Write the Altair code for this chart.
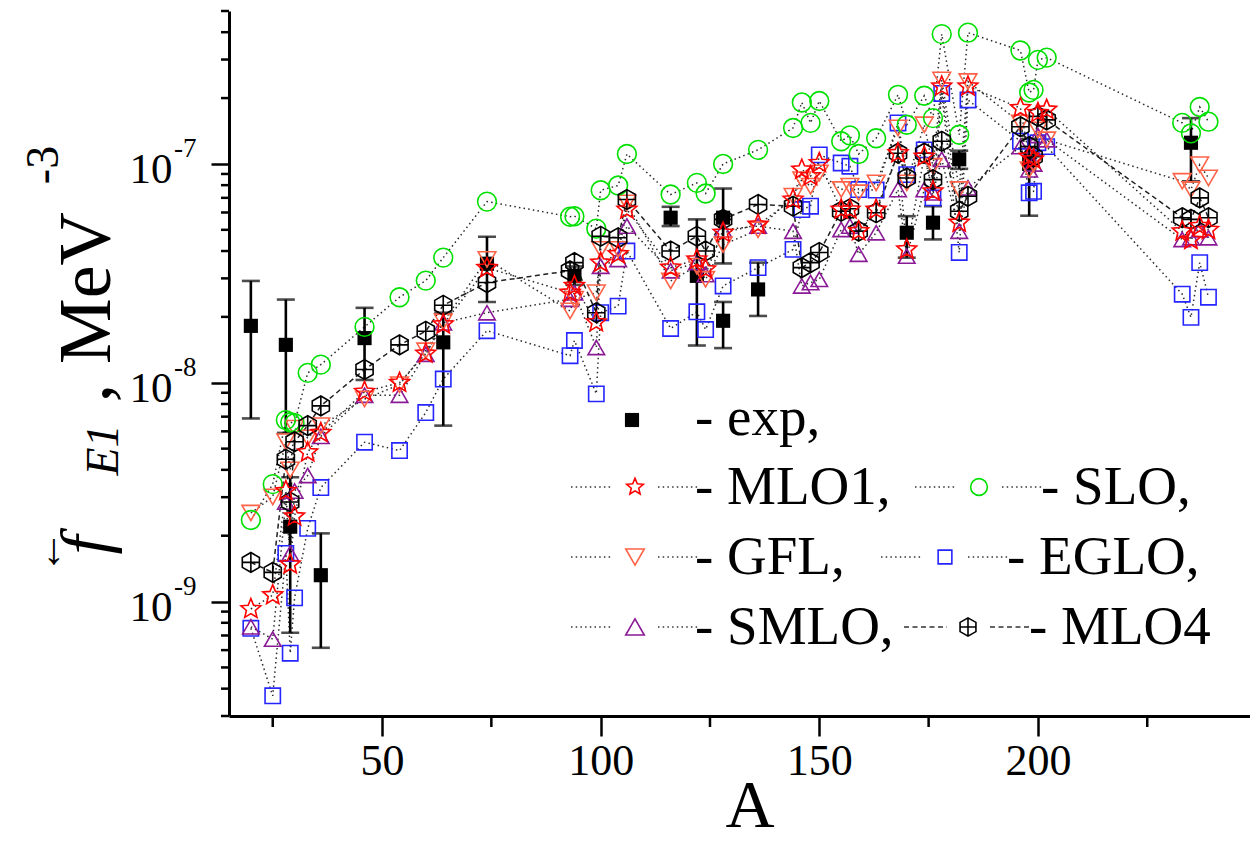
import altair as alt
import pandas as pd

# ---------------- data ----------------
A = [20, 25, 28, 29, 30, 33, 36, 46, 54, 60, 64, 74, 93, 94, 99, 100, 104, 106,
     116, 122, 124, 128, 136, 144, 146, 148, 150, 155, 157, 159, 163, 168, 170,
     174, 176, 178, 182, 184, 196, 198, 199, 200, 202, 233, 235, 237, 239]

SLO = [2.36e-9, 3.44e-9, 6.75e-9, 6.6e-9, 6.54e-9, 1.11e-8, 1.21e-8,
       1.80e-8, 2.46e-8, 2.93e-8, 3.73e-8,
       6.73e-8,
       5.74e-8, 5.77e-8, 5.06e-8, 7.58e-8, 7.97e-8, 1.11e-7,
       7.25e-8, 8.19e-8, 7.33e-8, 1.0e-7, 1.16e-7,
       1.46e-7, 1.91e-7, 1.54e-7, 1.94e-7,
       1.27e-7, 1.35e-7, 1.11e-7, 1.31e-7,
       2.07e-7, 1.51e-7, 2.05e-7, 1.62e-7, 3.92e-7,
       1.36e-7, 3.98e-7,
       3.3e-7, 2.12e-7, 2.18e-7, 2.99e-7, 3.06e-7,
       1.54e-7, 1.38e-7, 1.82e-7, 1.56e-7]

GFL = [2.54e-9, 3.01e-9, 5.38e-9, 4.0e-9, 6.2e-9, 5.6e-9, 6.37e-9,
       8.43e-9, 9.8e-9, 1.4e-8, 1.9e-8,
       3.66e-8,
       2.13e-8, 2.41e-8, 2.58e-8, 4.07e-8, 4.07e-8, 6.64e-8,
       2.92e-8, 3.41e-8, 2.97e-8, 4.28e-8, 5.0e-8,
       7.12e-8, 8.48e-8, 7.91e-8, 9.1e-8,
       7.64e-8, 7.91e-8, 7.38e-8, 8.19e-8,
       1.46e-7, 8.19e-8, 1.51e-7, 9.76e-8, 2.42e-7,
       7.64e-8, 2.38e-7,
       1.54e-7, 9.42e-8, 1.0e-7, 1.43e-7, 1.29e-7,
       8.33e-8, 7.64e-8, 9.92e-8, 8.63e-8]

MLO1 = [9.25e-10, 1.07e-9, 3.2e-9, 1.48e-9, 2.45e-9, 4.81e-9, 5.9e-9,
        9.1e-9, 1.0e-8, 1.36e-8, 1.85e-8,
        3.35e-8,
        2.58e-8, 2.77e-8, 1.89e-8, 3.54e-8, 3.87e-8, 6.19e-8,
        3.36e-8, 3.66e-8, 3.3e-8, 4.85e-8, 5.28e-8,
        6.88e-8, 9.42e-8, 8.79e-8, 1.01e-7,
        6.19e-8, 6.19e-8, 4.93e-8, 6.19e-8,
        1.12e-7, 4.07e-8, 1.08e-7, 7.5e-8, 2.26e-7,
        5.39e-8, 2.26e-7,
        1.8e-7, 1.08e-7, 1.05e-7, 1.71e-7, 1.77e-7,
        4.92e-8, 4.5e-8, 5.2e-8, 5.0e-8]

SMLO = [7.67e-10, 6.74e-10, 2.85e-9, 1.66e-9, 3.2e-9, 3.77e-9, 5.69e-9,
        8.77e-9, 8.77e-9, 1.35e-8, 1.88e-8,
        2.09e-8,
        2.41e-8, 2.58e-8, 1.45e-8, 3.41e-8, 3.66e-8, 5.2e-8,
        3.25e-8, 3.54e-8, 3.12e-8, 5.0e-8, 5.2e-8,
        4.93e-8, 2.77e-8, 2.87e-8, 2.97e-8,
        5.02e-8, 5.2e-8, 3.87e-8, 4.85e-8,
        7.64e-8, 3.79e-8, 7.64e-8, 7.38e-8, 1.05e-7,
        4.93e-8, 7.78e-8,
        1.2e-7, 9.4e-8, 1.0e-7, 1.35e-7, 1.29e-7,
        4.52e-8, 4.6e-8, 5.0e-8, 4.6e-8]

EGLO = [7.55e-10, 3.71e-10, 1.66e-9, 5.81e-10, 1.04e-9, 2.16e-9, 3.32e-9,
        5.35e-9, 4.9e-9, 7.31e-9, 1.04e-8,
        1.73e-8,
        1.33e-8, 1.56e-8, 8.9e-9, 2.09e-8, 2.24e-8, 4.0e-8,
        1.77e-8, 2.11e-8, 1.75e-8, 2.77e-8, 3.36e-8,
        4.07e-8, 6.19e-8, 6.41e-8, 1.1e-7,
        1.01e-7, 9.76e-8, 7.64e-8, 7.6e-8,
        1.54e-7, 8.94e-8, 1.16e-7, 7.0e-8, 2.1e-7,
        3.94e-8, 1.96e-7,
        1.27e-7, 7.38e-8, 7.5e-8, 1.25e-7, 1.2e-7,
        2.54e-8, 1.99e-8, 3.54e-8, 2.46e-8]

MLO4 = [1.51e-9, 1.36e-9, 4.47e-9, 2.85e-9, 5.38e-9, 6.37e-9, 7.84e-9,
        1.15e-8, 1.49e-8, 1.72e-8, 2.26e-8,
        2.87e-8,
        3.25e-8, 3.54e-8, 2.09e-8, 4.67e-8, 4.6e-8, 6.88e-8,
        4.0e-8, 4.67e-8, 4.0e-8, 5.58e-8, 6.53e-8,
        6.41e-8, 3.36e-8, 3.54e-8, 3.94e-8,
        6.08e-8, 6.24e-8, 4.93e-8, 5.98e-8,
        1.12e-7, 8.63e-8, 1.12e-7, 8.48e-8, 1.27e-7,
        6.08e-8, 7.12e-8,
        1.48e-7, 1.2e-7, 1.08e-7, 1.65e-7, 1.59e-7,
        5.68e-8, 5.58e-8, 7.0e-8, 5.68e-8]

EXP_A = [20, 28, 29, 36, 46, 64, 74, 94, 116, 122, 128, 128, 136, 170, 176, 182, 198, 235]
EXP_F = [1.82e-8, 1.49e-8, 2.2e-9, 1.32e-9, 1.6e-8, 1.53e-8, 3.5e-8, 3.08e-8, 5.68e-8,
         3.08e-8, 5.68e-8, 1.92e-8, 2.67e-8, 4.85e-8, 5.39e-8, 1.05e-7, 1.0e-7, 1.25e-7]
EXP_HI = [2.92e-8, 2.4e-8, 3.7e-9, 2.05e-9, 2.2e-8, 2.09e-8, 4.65e-8, 3.4e-8, 6.37e-8,
          5.58e-8, 7.72e-8, 2.34e-8, 3.54e-8, 5.77e-8, 6.41e-8, 1.15e-7, 1.3e-7, 1.62e-7]
EXP_LO = [6.87e-9, 5.9e-9, 7.2e-10, 6.15e-10, 1.03e-8, 6.37e-9, 2.34e-8, 2.8e-8, 5.2e-8,
          1.48e-8, 3.51e-8, 1.44e-8, 2.02e-8, 3.73e-8, 4.52e-8, 9.5e-8, 5.8e-8, 8.33e-8]

X_MAJOR = [50, 100, 150, 200]
X_MINOR = [25, 75, 125, 175, 225]
Y_DECADES = [1e-9, 1e-8, 1e-7]
Y_DECADE_EXP = ["-9", "-8", "-7"]
Y_MINOR = [3e-10, 4e-10, 5e-10, 6e-10, 7e-10, 8e-10, 9e-10,
           2e-9, 3e-9, 4e-9, 5e-9, 6e-9, 7e-9, 8e-9, 9e-9,
           2e-8, 3e-8, 4e-8, 5e-8, 6e-8, 7e-8, 8e-8, 9e-8,
           2e-7, 3e-7, 4e-7, 5e-7]

SERIES = ["EGLO", "SMLO", "GFL", "SLO", "MLO4", "MLO1"]
SERIES_VALUES = {"EGLO": EGLO, "SMLO": SMLO, "GFL": GFL, "SLO": SLO, "MLO4": MLO4, "MLO1": MLO1}

# ---------------- styles ----------------
FONT = "Liberation Serif, Times New Roman, serif"
STAR = ("M0,-1L0.2645,-0.364L0.951,-0.309L0.428,0.139L0.588,0.809L0,0.45L-0.588,0.809"
        "L-0.428,0.139L-0.951,-0.309L-0.2645,-0.364Z")
HEX = ("M0,-1L0.866,-0.5L0.866,0.5L0,1L-0.866,0.5L-0.866,-0.5Z"
       "M0,-1L0,1M-0.866,0L0.866,0")
STYLE = {
    "MLO1": dict(shape=STAR, color="#ff0000", size=380),
    "SLO": dict(shape="circle", color="#00e000", size=350),
    "GFL": dict(shape="triangle-down", color="#ff6347", size=430),
    "EGLO": dict(shape="square", color="#2525ff", size=235),
    "SMLO": dict(shape="triangle-up", color="#8b1a96", size=430),
    "MLO4": dict(shape=HEX, color="#000000", size=420),
}

W, H = 1021, 705
OX, OY = 229, 11
x_scale = alt.Scale(domain=[15, 248.5], nice=False, zero=False)
y_scale = alt.Scale(type="log", domain=[3e-10, 5e-7], nice=False)

x_axis = alt.Axis(values=X_MAJOR, tickSize=20, tickWidth=2.5, tickColor="black",
                  domainColor="black", domainWidth=3, grid=False,
                  labelFont=FONT, labelFontSize=44, labelColor="black", labelPadding=3,
                  title="", format="d")
y_axis = alt.Axis(values=Y_DECADES, tickSize=18, tickWidth=2.5, tickColor="black",
                  domainColor="black", domainWidth=3, grid=False, labels=False, title="")


def X(field):
    return alt.X(field, type="quantitative", scale=x_scale, axis=x_axis)


def Y(field):
    return alt.Y(field, type="quantitative", scale=y_scale, axis=y_axis)


rows = []
for name in SERIES:
    for i, (a, v) in enumerate(zip(A, SERIES_VALUES[name])):
        rows.append({"A": a, "f": v, "series": name, "i": i})
df = pd.DataFrame(rows)

exp_df = pd.DataFrame({"A": EXP_A, "f": EXP_F, "hi": EXP_HI, "lo": EXP_LO})

layers = []

# connecting lines
layers.append(
    alt.Chart(df).transform_filter("datum.series != 'MLO4'")
    .mark_line(color="#2a2a2a", strokeWidth=1.5, strokeDash=[1.5, 3.2])
    .encode(x=X("A"), y=Y("f"), detail="series:N", order="i:Q")
)
layers.append(
    alt.Chart(df).transform_filter("datum.series == 'MLO4'")
    .mark_line(color="#222222", strokeWidth=1.5, strokeDash=[5, 3.5])
    .encode(x=X("A"), y=Y("f"), order="i:Q")
)

# experimental error bars + squares
layers.append(alt.Chart(exp_df).mark_rule(color="black", strokeWidth=2.6)
              .encode(x=X("A"), y=Y("lo"), y2="hi:Q"))
layers.append(alt.Chart(exp_df).mark_tick(color="black", thickness=2.6, size=18, orient="horizontal")
              .encode(x=X("A"), y=Y("hi")))
layers.append(alt.Chart(exp_df).mark_tick(color="black", thickness=2.6, size=18, orient="horizontal")
              .encode(x=X("A"), y=Y("lo")))
layers.append(alt.Chart(exp_df).mark_point(shape="square", filled=True, color="black", size=200, opacity=1)
              .encode(x=X("A"), y=Y("f")))

# model markers
layers.append(
    alt.Chart(df).mark_point(filled=False, strokeWidth=1.6, opacity=1)
    .encode(
        x=X("A"), y=Y("f"),
        shape=alt.Shape("series:N", scale=alt.Scale(domain=SERIES, range=[STYLE[s]["shape"] for s in SERIES]), legend=None),
        color=alt.Color("series:N", scale=alt.Scale(domain=SERIES, range=[STYLE[s]["color"] for s in SERIES]), legend=None),
        size=alt.Size("series:N", scale=alt.Scale(domain=SERIES, range=[STYLE[s]["size"] for s in SERIES]), legend=None),
    )
)

# minor ticks
layers.append(alt.Chart(pd.DataFrame({"v": X_MINOR})).mark_rule(color="black", strokeWidth=2.5)
              .encode(x=X("v"), y=alt.value(H), y2=alt.value(H + 11)))
layers.append(alt.Chart(pd.DataFrame({"v": Y_MINOR})).mark_rule(color="black", strokeWidth=2.5)
              .encode(y=Y("v"), x=alt.value(-8), x2=alt.value(0)))

# y tick labels 10^n
lab_df = pd.DataFrame({"v": Y_DECADES, "b": ["10"] * 3, "e": Y_DECADE_EXP})
layers.append(alt.Chart(lab_df).mark_text(font=FONT, fontSize=43, align="center", baseline="alphabetic", dy=19, color="black")
              .encode(y=Y("v"), x=alt.value(-78), text="b:N"))
layers.append(alt.Chart(lab_df).mark_text(font=FONT, fontSize=27, align="left", baseline="alphabetic", dy=-7, color="black")
              .encode(y=Y("v"), x=alt.value(-55), text="e:N"))

one = pd.DataFrame({"d": [0]})

# x-axis title
layers.append(alt.Chart(one).mark_text(text="A", font=FONT, fontSize=68, align="center", baseline="alphabetic",
                                       color="black").encode(x=alt.value(750 - OX), y=alt.value(827 - OY)))


# y-axis title pieces (rotated)
def vtext(txt, x, y, size, style="normal", baseline="alphabetic", weight="normal"):
    return alt.Chart(one).mark_text(text=txt, font=FONT, fontSize=size, fontStyle=style, fontWeight=weight,
                                    angle=270, align="center", baseline=baseline, color="black").encode(
        x=alt.value(x), y=alt.value(y))


layers += [
    vtext("MeV", 110 - OX, 288 - OY, 74),
    vtext("-3", 58 - OX, 165 - OY, 46),
    vtext(",", 110 - OX, 393 - OY, 74),
    vtext("E1", 118 - OX, 450 - OY, 46, "italic"),
    vtext("f", 108 - OX, 545 - OY, 68, "italic"),
    vtext("\u2190", 48 - OX, 552 - OY, 44, baseline="middle", weight="bold"),
]

# legend
LEG_FS = 55


def seg(x1, x2, y, dash):
    return alt.Chart(one).mark_rule(color="#333333", strokeWidth=1.4, strokeDash=dash).encode(
        x=alt.value(x1), x2=alt.value(x2), y=alt.value(y))


def sym(name, x, y):
    s = STYLE[name]
    return alt.Chart(one).mark_point(shape=s["shape"], color=s["color"], size=s["size"] * 0.8,
                                     filled=False, strokeWidth=1.6, opacity=1).encode(
        x=alt.value(x), y=alt.value(y))


def ltext(txt, x, y):
    return alt.Chart(one).mark_text(text=txt, font=FONT, fontSize=LEG_FS, align="left", baseline="middle",
                                    color="black").encode(x=alt.value(x), y=alt.value(y))


DOT = [1.5, 3.2]
DASH = [5, 3.5]
R1, R2, R3, R4 = 407, 476, 546, 616
legend_items = [
    # name, line1 x1, line1 x2, symbol x, line2 x1, line2 x2, text x, row y, dash
    ("MLO1", 342, 384, 406, 429, 470, 466, R2, DOT),
    ("SLO", 686, 728, 750, 773, 814, 812, R2, DOT),
    ("GFL", 342, 384, 406, 429, 470, 466, R3, DOT),
    ("EGLO", 652, 694, 716, 739, 780, 778, R3, DOT),
    ("SMLO", 342, 384, 406, 429, 470, 466, R4, DOT),
    ("MLO4", 675, 718, 739, 761, 803, 800, R4, DASH),
]
label_text = {"MLO1": "- MLO1,", "SLO": "- SLO,", "GFL": "- GFL,", "EGLO": "- EGLO,",
              "SMLO": "- SMLO,", "MLO4": "- MLO4"}
for name, a1, a2, sx, b1, b2, tx, ry, dash in legend_items:
    layers += [seg(a1, a2, ry, dash), seg(b1, b2, ry, dash), sym(name, sx, ry), ltext(label_text[name], tx, ry)]

layers.append(alt.Chart(one).mark_point(shape="square", filled=True, color="black", size=200, opacity=1)
              .encode(x=alt.value(403), y=alt.value(R1 + 2)))
layers.append(ltext("- exp,", 466, R1))

chart = alt.layer(*layers).properties(
    width=W, height=H,
    autosize=alt.AutoSizeParams(type="none"),
    padding={"left": OX, "top": OY, "right": 0, "bottom": 848 - OY - H},
    background="white",
).configure_view(strokeWidth=0)

chart.save("out.html", embed_options={"renderer": "svg", "actions": False})
